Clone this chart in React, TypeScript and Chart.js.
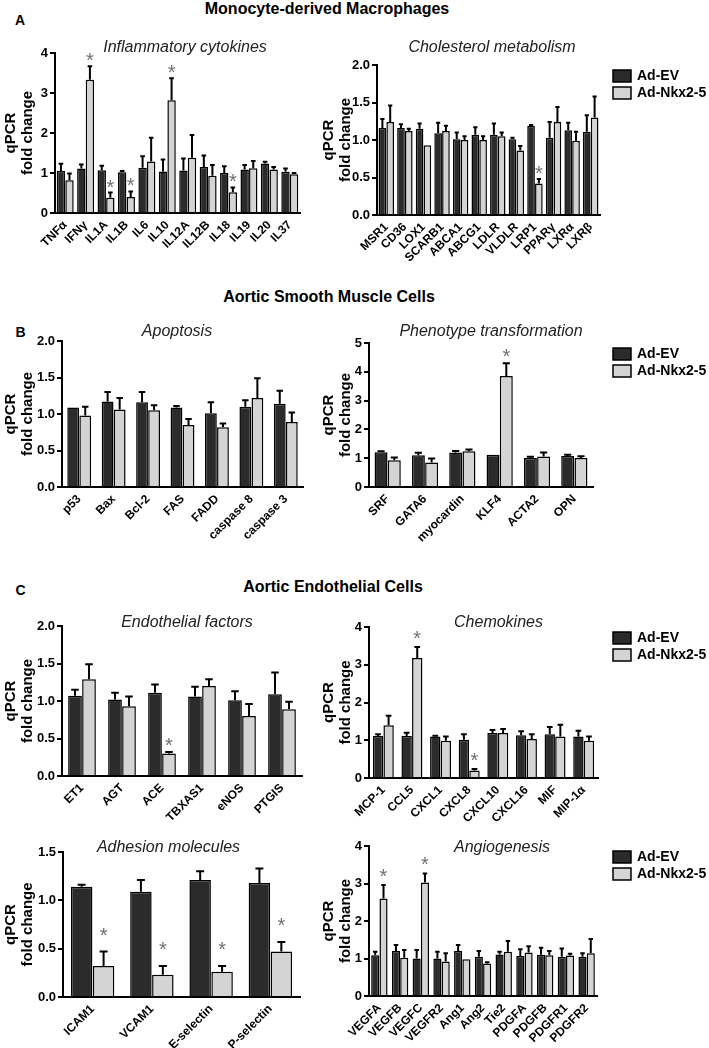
import React, { useEffect, useRef } from "react";
import { Chart, registerables } from "chart.js";

Chart.register(...registerables);

const FONT = "'Liberation Sans', Arial, Helvetica, sans-serif";
const DARK = "#2b2b2b";
const LIGHT = "#d4d4d4";
const SERIES = ["Ad-EV", "Ad-Nkx2-5"];

// ---- A: Inflammatory cytokines ----
const cytoLabels = ["TNFα", "IFNγ", "IL1A", "IL1B", "IL6", "IL10", "IL12A", "IL12B", "IL18", "IL19", "IL20", "IL37"];
const cytoEV = [1.05, 1.11, 1.07, 1.02, 1.13, 1.04, 1.06, 1.15, 1.0, 1.09, 1.24, 1.03];
const cytoEVErr = [0.18, 0.1, 0.11, 0.03, 0.29, 0.3, 0.3, 0.29, 0.17, 0.11, 0.04, 0.08];
const cytoNkx = [0.82, 3.33, 0.38, 0.4, 1.29, 2.82, 1.38, 0.93, 0.52, 1.12, 1.09, 0.97];
const cytoNkxErr = [0.17, 0.34, 0.13, 0.14, 0.59, 0.55, 0.57, 0.27, 0.12, 0.18, 0.06, 0.03];
const cytoStars = [false, true, true, true, false, true, false, false, true, false, false, false];

// ---- A: Cholesterol metabolism ----
const cholLabels = ["MSR1", "CD36", "LOX1", "SCARB1", "ABCA1", "ABCG1", "LDLR", "VLDLR", "LRP1", "PPARγ", "LXRα", "LXRβ"];
const cholEV = [1.16, 1.16, 1.15, 1.09, 1.01, 1.07, 1.07, 1.01, 1.19, 1.03, 1.13, 1.11];
const cholEVErr = [0.12, 0.05, 0.07, 0.14, 0.09, 0.1, 0.15, 0.02, 0.01, 0.21, 0.1, 0.22];
const cholNkx = [1.24, 1.12, 0.93, 1.12, 1.0, 1.0, 1.05, 0.86, 0.42, 1.24, 0.99, 1.3];
const cholNkxErr = [0.22, 0.03, 0.0, 0.07, 0.05, 0.05, 0.05, 0.06, 0.06, 0.2, 0.12, 0.28];
const cholStars = [false, false, false, false, false, false, false, false, true, false, false, false];

// ---- B: Apoptosis ----
const apoLabels = ["p53", "Bax", "Bcl-2", "FAS", "FADD", "caspase 8", "caspase 3"];
const apoEV = [1.09, 1.17, 1.16, 1.09, 1.01, 1.1, 1.14];
const apoEVErr = [0.0, 0.13, 0.14, 0.02, 0.15, 0.09, 0.18];
const apoNkx = [0.98, 1.06, 1.05, 0.85, 0.82, 1.22, 0.89];
const apoNkxErr = [0.12, 0.16, 0.07, 0.08, 0.05, 0.27, 0.13];
const apoStars = [false, false, false, false, false, false, false];

// ---- B: Phenotype transformation ----
const phenoLabels = ["SRF", "GATA6", "myocardin", "KLF4", "ACTA2", "OPN"];
const phenoEV = [1.21, 1.1, 1.2, 1.12, 1.01, 1.08];
const phenoEVErr = [0.03, 0.09, 0.05, 0.0, 0.04, 0.04];
const phenoNkx = [0.93, 0.85, 1.24, 3.85, 1.06, 1.01];
const phenoNkxErr = [0.09, 0.14, 0.06, 0.45, 0.14, 0.06];
const phenoStars = [false, false, false, true, false, false];

// ---- C: Endothelial factors ----
const endoLabels = ["ET1", "AGT", "ACE", "TBXAS1", "eNOS", "PTGIS"];
const endoEV = [1.07, 1.02, 1.11, 1.06, 1.01, 1.09];
const endoEVErr = [0.08, 0.09, 0.11, 0.13, 0.12, 0.29];
const endoNkx = [1.29, 0.93, 0.3, 1.2, 0.8, 0.89];
const endoNkxErr = [0.2, 0.13, 0.02, 0.09, 0.16, 0.1];
const endoStars = [false, false, true, false, false, false];

// ---- C: Chemokines ----
const chemoLabels = ["MCP-1", "CCL5", "CXCL1", "CXCL8", "CXCL10", "CXCL16", "MIF", "MIP-1α"];
const chemoEV = [1.11, 1.11, 1.1, 1.01, 1.19, 1.13, 1.16, 1.1];
const chemoEVErr = [0.05, 0.09, 0.02, 0.15, 0.08, 0.11, 0.19, 0.15];
const chemoNkx = [1.4, 3.18, 0.99, 0.2, 1.19, 1.03, 1.1, 0.99];
const chemoNkxErr = [0.25, 0.29, 0.11, 0.04, 0.11, 0.13, 0.31, 0.11];
const chemoStars = [false, true, false, true, false, false, false, false];

// ---- C: Adhesion molecules ----
const adhLabels = ["ICAM1", "VCAM1", "E-selectin", "P-selectin"];
const adhEV = [1.14, 1.09, 1.21, 1.18];
const adhEVErr = [0.02, 0.12, 0.09, 0.15];
const adhNkx = [0.32, 0.23, 0.26, 0.47];
const adhNkxErr = [0.15, 0.09, 0.06, 0.1];
const adhStars = [true, true, true, true];

// ---- C: Angiogenesis ----
const angioLabels = ["VEGFA", "VEGFB", "VEGFC", "VEGFR2", "Ang1", "Ang2", "Tie2", "PDGFA", "PDGFB", "PDGFR1", "PDGFR2"];
const angioEV = [1.09, 1.2, 1.0, 1.0, 1.2, 1.05, 1.11, 1.07, 1.1, 1.05, 1.05];
const angioEVErr = [0.09, 0.16, 0.23, 0.18, 0.16, 0.15, 0.07, 0.18, 0.19, 0.22, 0.09];
const angioNkx = [2.6, 1.02, 3.03, 0.92, 0.98, 0.87, 1.18, 1.16, 1.09, 1.08, 1.14];
const angioNkxErr = [0.36, 0.21, 0.24, 0.22, 0.0, 0.03, 0.29, 0.17, 0.11, 0.05, 0.38];
const angioStars = [true, false, true, false, false, false, false, false, false, false, false];

const PT = 30;

const errorStarPlugin = {
  id: "errorStars",
  afterDatasetsDraw(chart: any, _args: any, opts: any) {
    const ctx = chart.ctx;
    const yScale = chart.scales.y;
    chart.data.datasets.forEach((ds: any, i: number) => {
      const meta = chart.getDatasetMeta(i);
      meta.data.forEach((bar: any, j: number) => {
        const v = ds.data[j];
        const err = (ds.errors && ds.errors[j]) || 0;
        const yTop = yScale.getPixelForValue(v + err);
        if (err > 0) {
          const cap = Math.min(bar.width * 0.55, 8);
          ctx.save();
          ctx.strokeStyle = "#000";
          ctx.lineWidth = 2;
          ctx.beginPath();
          ctx.moveTo(bar.x, bar.y);
          ctx.lineTo(bar.x, yTop);
          ctx.moveTo(bar.x - cap / 2, yTop);
          ctx.lineTo(bar.x + cap / 2, yTop);
          ctx.stroke();
          ctx.restore();
        }
        if (ds.stars && ds.stars[j]) {
          ctx.save();
          ctx.font = `20px ${FONT}`;
          ctx.fillStyle = "#707070";
          ctx.textAlign = "center";
          ctx.textBaseline = "alphabetic";
          const m = ctx.measureText("*");
          const center = yTop - (opts.gap || 10);
          const base = center - (m.actualBoundingBoxDescent - m.actualBoundingBoxAscent) / 2;
          ctx.fillText("*", bar.x, base);
          ctx.restore();
        }
      });
    });
  },
};

const panelTitlePlugin = {
  id: "panelTitle",
  afterDraw(chart: any, _args: any, opts: any) {
    if (!opts || !opts.text) return;
    const { ctx, chartArea } = chart;
    ctx.save();
    ctx.font = `italic 16px ${FONT}`;
    ctx.fillStyle = "#222";
    ctx.textAlign = "center";
    ctx.textBaseline = "middle";
    ctx.fillText(opts.text, (chartArea.left + chartArea.right) / 2 + (opts.dx || 0), chartArea.top + (opts.dy || 0));
    ctx.restore();
  },
};

const sideLegendPlugin = {
  id: "sideLegend",
  afterDraw(chart: any, _args: any, opts: any) {
    if (!opts || !opts.show) return;
    const { ctx } = chart;
    ctx.save();
    chart.data.datasets.forEach((ds: any, i: number) => {
      const x = opts.x;
      const y = opts.y + i * 17;
      ctx.fillStyle = ds.backgroundColor;
      ctx.fillRect(x, y, 18, 12);
      ctx.strokeStyle = "#000";
      ctx.lineWidth = 1.5;
      ctx.strokeRect(x, y, 18, 12);
      ctx.fillStyle = "#000";
      ctx.font = `bold 14px ${FONT}`;
      ctx.textAlign = "left";
      ctx.textBaseline = "middle";
      ctx.fillText(ds.label, x + 24, y + 6.5);
    });
    ctx.restore();
  },
};

type PanelCfg = {
  left: number;
  axisX: number;
  right: number;
  top: number;
  bottom: number;
  xh: number;
  w: number;
  labels: string[];
  ev: number[];
  evErr: number[];
  nkx: number[];
  nkxErr: number[];
  stars: boolean[];
  max: number;
  step: number;
  decimals: boolean;
  title: string;
  dx: number;
  dy: number;
  cat: number;
  gap: number;
  legend: boolean;
};

function BarPanel({ cfg }: { cfg: PanelCfg }) {
  const ref = useRef<HTMLCanvasElement>(null);
  const canvasTop = cfg.top - PT;
  const h = PT + (cfg.bottom - cfg.top) + cfg.xh;
  const yw = cfg.axisX - cfg.left;
  const pr = cfg.w - (cfg.right - cfg.left);
  useEffect(() => {
    if (!ref.current) return;
    const chart = new Chart(ref.current, {
      type: "bar",
      data: {
        labels: cfg.labels,
        datasets: [
          {
            label: SERIES[0],
            data: cfg.ev,
            errors: cfg.evErr,
            backgroundColor: DARK,
            borderColor: "#000",
            borderWidth: 1.5,
            borderSkipped: "start",
            barPercentage: 0.98,
            categoryPercentage: cfg.cat,
          } as any,
          {
            label: SERIES[1],
            data: cfg.nkx,
            errors: cfg.nkxErr,
            stars: cfg.stars,
            backgroundColor: LIGHT,
            borderColor: "#000",
            borderWidth: 1.5,
            borderSkipped: "start",
            barPercentage: 0.98,
            categoryPercentage: cfg.cat,
          } as any,
        ],
      },
      options: {
        responsive: false,
        animation: false,
        devicePixelRatio: 1,
        layout: { padding: { top: PT, right: pr, left: 0, bottom: 0 } },
        plugins: {
          legend: { display: false },
          tooltip: { enabled: false },
          title: { display: false },
          panelTitle: { text: cfg.title, dx: cfg.dx, dy: cfg.dy },
          sideLegend: { show: cfg.legend, x: 613 - cfg.left, y: PT + 5 },
          errorStars: { gap: cfg.gap },
        } as any,
        scales: {
          x: {
            offset: true,
            grid: { display: false, drawTicks: false },
            border: { display: true, color: "#000", width: 2 },
            ticks: {
              color: "#000",
              font: { family: FONT, size: 12, weight: "bold" },
              minRotation: 45,
              maxRotation: 45,
              autoSkip: false,
              padding: 5,
            },
            afterFit: (s: any) => {
              s.height = cfg.xh;
            },
          },
          y: {
            min: 0,
            max: cfg.max,
            ticks: {
              stepSize: cfg.step,
              color: "#000",
              font: { family: FONT, size: 13, weight: "bold" },
              padding: 2,
              callback: (v: any) => (cfg.decimals ? Number(v).toFixed(1) : String(v)),
            },
            grid: {
              display: true,
              drawOnChartArea: false,
              drawTicks: true,
              tickLength: 5,
              color: "#000",
              lineWidth: 2,
            },
            border: { display: true, color: "#000", width: 2 },
            title: {
              display: true,
              text: ["qPCR", "fold change"],
              color: "#000",
              font: { family: FONT, size: 15, weight: "bold", lineHeight: 1.1 },
              padding: { top: 3, bottom: 0 },
            },
            afterFit: (s: any) => {
              s.width = yw;
            },
          },
        },
      },
      plugins: [errorStarPlugin, panelTitlePlugin, sideLegendPlugin],
    } as any);
    return () => chart.destroy();
  }, []);
  return (
    <canvas
      ref={ref}
      width={cfg.w}
      height={h}
      style={{ position: "absolute", left: cfg.left, top: canvasTop, width: cfg.w, height: h }}
    />
  );
}

const panels: PanelCfg[] = [
  {
    left: 0, axisX: 55, right: 300, top: 53, bottom: 213, xh: 45, w: 315,
    labels: cytoLabels, ev: cytoEV, evErr: cytoEVErr, nkx: cytoNkx, nkxErr: cytoNkxErr, stars: cytoStars,
    max: 4, step: 1, decimals: false, title: "Inflammatory cytokines", dx: 7.5, dy: -5, cat: 0.84, gap: 9, legend: false,
  },
  {
    left: 318, axisX: 377, right: 600, top: 65, bottom: 215, xh: 50, w: 391,
    labels: cholLabels, ev: cholEV, evErr: cholEVErr, nkx: cholNkx, nkxErr: cholNkxErr, stars: cholStars,
    max: 2, step: 0.5, decimals: true, title: "Cholesterol metabolism", dx: 3.5, dy: -17, cat: 0.84, gap: 9, legend: true,
  },
  {
    left: 0, axisX: 62, right: 303, top: 341, bottom: 487, xh: 62, w: 315,
    labels: apoLabels, ev: apoEV, evErr: apoEVErr, nkx: apoNkx, nkxErr: apoNkxErr, stars: apoStars,
    max: 2, step: 0.5, decimals: true, title: "Apoptosis", dx: -5.5, dy: -9, cat: 0.7, gap: 9, legend: false,
  },
  {
    left: 318, axisX: 369, right: 593, top: 343, bottom: 487, xh: 62, w: 391,
    labels: phenoLabels, ev: phenoEV, evErr: phenoEVErr, nkx: phenoNkx, nkxErr: phenoNkxErr, stars: phenoStars,
    max: 5, step: 1, decimals: false, title: "Phenotype transformation", dx: 10, dy: -11, cat: 0.71, gap: 10, legend: true,
  },
  {
    left: 0, axisX: 62, right: 302, top: 626, bottom: 776, xh: 50, w: 315,
    labels: endoLabels, ev: endoEV, evErr: endoEVErr, nkx: endoNkx, nkxErr: endoNkxErr, stars: endoStars,
    max: 2, step: 0.5, decimals: true, title: "Endothelial factors", dx: 5, dy: -3, cat: 0.7, gap: 10, legend: false,
  },
  {
    left: 318, axisX: 369, right: 598, top: 627, bottom: 778, xh: 50, w: 391,
    labels: chemoLabels, ev: chemoEV, evErr: chemoEVErr, nkx: chemoNkx, nkxErr: chemoNkxErr, stars: chemoStars,
    max: 4, step: 1, decimals: false, title: "Chemokines", dx: 15, dy: -4, cat: 0.74, gap: 12, legend: true,
  },
  {
    left: 0, axisX: 63, right: 300, top: 852, bottom: 997, xh: 56, w: 315,
    labels: adhLabels, ev: adhEV, evErr: adhEVErr, nkx: adhNkx, nkxErr: adhNkxErr, stars: adhStars,
    max: 1.5, step: 0.5, decimals: true, title: "Adhesion molecules", dx: -13, dy: -4, cat: 0.74, gap: 20, legend: false,
  },
  {
    left: 318, axisX: 369, right: 597, top: 846, bottom: 996, xh: 52, w: 391,
    labels: angioLabels, ev: angioEV, evErr: angioEVErr, nkx: angioNkx, nkxErr: angioNkxErr, stars: angioStars,
    max: 4, step: 1, decimals: false, title: "Angiogenesis", dx: 19, dy: 2, cat: 0.8, gap: 12, legend: true,
  },
];

const headings = [
  { text: "Monocyte-derived Macrophages", x: 327, y: 9 },
  { text: "Aortic Smooth Muscle Cells", x: 329, y: 297 },
  { text: "Aortic Endothelial Cells", x: 333, y: 587 },
];

const letters = [
  { text: "A", x: 20, y: 20 },
  { text: "B", x: 20.5, y: 332 },
  { text: "C", x: 20.5, y: 590 },
];

export default function App() {
  return (
    <div
      style={{
        position: "absolute",
        left: 0,
        top: 0,
        width: 709,
        height: 1048,
        background: "#fff",
        overflow: "hidden",
        fontFamily: FONT,
      }}
    >
      {headings.map((h) => (
        <div
          key={h.text}
          style={{
            position: "absolute",
            left: h.x,
            top: h.y,
            transform: "translate(-50%, -50%)",
            fontWeight: "bold",
            fontSize: 16,
            whiteSpace: "nowrap",
            color: "#000",
          }}
        >
          {h.text}
        </div>
      ))}
      {letters.map((l) => (
        <div
          key={l.text}
          style={{
            position: "absolute",
            left: l.x,
            top: l.y,
            transform: "translate(-50%, -50%)",
            fontWeight: "bold",
            fontSize: 14,
            color: "#000",
          }}
        >
          {l.text}
        </div>
      ))}
      {panels.map((p, i) => (
        <BarPanel key={i} cfg={p} />
      ))}
    </div>
  );
}
